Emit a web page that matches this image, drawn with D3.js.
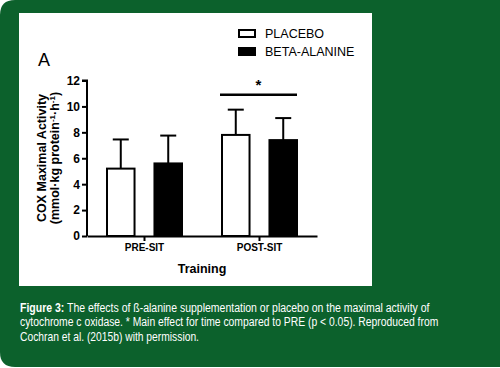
<!DOCTYPE html>
<html>
<head>
<meta charset="utf-8">
<script src="https://cdn.jsdelivr.net/npm/d3@7"></script>
<style>
  body { margin: 0; background: #fff; }
  svg { display: block; }
</style>
</head>
<body>
<svg width="500" height="368"></svg>
<script>
  // data
  var groups = ["PRE-SIT", "POST-SIT"];
  var series = ["PLACEBO", "BETA-ALANINE"];
  var means = [[5.2, 5.6], [7.8, 7.4]];
  var errs = [[7.45, 7.75], [9.75, 9.1]];
  var yTicks = [0, 2, 4, 6, 8, 10, 12];

  var svg = d3.select("svg");
  var green = "#0c612c";

  // green card with rounded left corners
  svg.append("path")
    .attr("d", "M15,0 H500 V367 H15 Q0,367 0,352 V15 Q0,0 15,0 Z")
    .attr("fill", green);

  svg.append("rect")
    .attr("x", 19).attr("y", 13)
    .attr("width", 353).attr("height", 273)
    .attr("fill", "#fff");

  var x0 = d3.scaleBand().domain(groups).range([87, 317]).padding(0);
  var x1 = d3.scaleBand().domain(series).range([20, 95]).paddingInner(0.42);
  var y = d3.scaleLinear().domain([0, 12]).range([236, 80.5]);
  var fill = d3.scaleOrdinal().domain(series).range(["#fff", "#000"]);

  var g = svg.append("g");

  var grp = g.selectAll("g.grp")
    .data(groups)
    .enter().append("g")
    .attr("class", "grp")
    .attr("transform", function(d) { return "translate(" + x0(d) + ",0)"; });

  // error bars (drawn first so the bar covers the lower half)
  grp.selectAll("g.err")
    .data(function(d, i) { return series.map(function(s, j) { return {key: s, value: means[i][j], err: errs[i][j]}; }); })
    .enter().append("g")
    .attr("class", "err")
    .each(function(d) {
      var cx = x1(d.key) + x1.bandwidth() / 2;
      var e = d3.select(this);
      e.append("line")
        .attr("x1", cx).attr("x2", cx)
        .attr("y1", y(d.value)).attr("y2", y(d.err))
        .attr("stroke", "#000").attr("stroke-width", 2);
      e.append("line")
        .attr("x1", cx - 8).attr("x2", cx + 8)
        .attr("y1", y(d.err)).attr("y2", y(d.err))
        .attr("stroke", "#000").attr("stroke-width", 2);
    });

  grp.selectAll("rect")
    .data(function(d, i) { return series.map(function(s, j) { return {key: s, value: means[i][j]}; }); })
    .enter().append("rect")
    .attr("x", function(d) { return x1(d.key); })
    .attr("y", function(d) { return y(d.value); })
    .attr("width", x1.bandwidth())
    .attr("height", function(d) { return y(0) - y(d.value); })
    .attr("fill", function(d) { return fill(d.key); })
    .attr("stroke", "#000")
    .attr("stroke-width", 2);

  // axes
  var yAxis = g.append("g")
    .attr("transform", "translate(87,0)")
    .call(d3.axisLeft(y).tickValues(yTicks).tickSize(5).tickPadding(2).tickFormat(d3.format("d")));
  var xAxis = g.append("g")
    .attr("transform", "translate(0,236)")
    .call(d3.axisBottom(x0).tickSize(5).tickPadding(3).tickSizeOuter(0));

  [yAxis, xAxis].forEach(function(a) {
    a.select(".domain").attr("stroke", "#000").attr("stroke-width", 2);
    a.selectAll(".tick line").attr("stroke", "#000").attr("stroke-width", 2);
    a.selectAll("text")
      .attr("fill", "#000")
      .attr("font-family", "Liberation Sans, Arial, sans-serif")
      .attr("font-weight", "bold")
      .attr("font-size", 12);
  });
  yAxis.select(".domain").attr("d", "M-5," + y(12) + "H0V" + y(0));
  xAxis.selectAll("text").attr("font-size", 10);

  // significance bar
  var sx1 = x0("POST-SIT") + x1("PLACEBO") - 2;
  var sx2 = x0("POST-SIT") + x1("BETA-ALANINE") + x1.bandwidth();
  g.append("line")
    .attr("x1", sx1).attr("x2", sx2)
    .attr("y1", y(10.9)).attr("y2", y(10.9))
    .attr("stroke", "#000").attr("stroke-width", 2.5);
  g.append("text")
    .attr("x", (sx1 + sx2) / 2).attr("y", y(11.3))
    .attr("text-anchor", "middle")
    .attr("font-family", "Liberation Sans, Arial, sans-serif")
    .attr("font-weight", "bold")
    .attr("font-size", 15)
    .text("*");

  // axis titles
  var ylab = g.append("text")
    .attr("transform", "translate(46,158) rotate(-90)")
    .attr("text-anchor", "middle")
    .attr("font-family", "Liberation Sans, Arial, sans-serif")
    .attr("font-weight", "bold")
    .attr("font-size", 12.5)
    .attr("fill", "#000");
  ylab.append("tspan").attr("x", 0).attr("y", 0).text("COX Maximal Activity");
  var l2 = ylab.append("tspan").attr("x", 0).attr("y", 13);
  l2.append("tspan").text("(mmol·kg protein");
  l2.append("tspan").attr("dy", -4).attr("font-size", 8).text("-1");
  l2.append("tspan").attr("dy", 4).text("·h");
  l2.append("tspan").attr("dy", -4).attr("font-size", 8).text("-1");
  l2.append("tspan").attr("dy", 4).text(")");

  g.append("text")
    .attr("x", 202).attr("y", 273)
    .attr("text-anchor", "middle")
    .attr("font-family", "Liberation Sans, Arial, sans-serif")
    .attr("font-weight", "bold")
    .attr("font-size", 12.5)
    .text("Training");

  g.append("text")
    .attr("x", 38).attr("y", 66)
    .attr("font-family", "Liberation Sans, Arial, sans-serif")
    .attr("font-size", 18)
    .text("A");

  // legend
  var legend = g.selectAll("g.legend")
    .data(series)
    .enter().append("g")
    .attr("class", "legend")
    .attr("transform", function(d, i) { return "translate(239," + (30 + i * 18) + ")"; });
  legend.append("rect")
    .attr("width", 16).attr("height", 7)
    .attr("fill", fill)
    .attr("stroke", "#000").attr("stroke-width", 2);
  legend.append("text")
    .attr("x", 26).attr("y", 7.5)
    .attr("font-family", "Liberation Sans, Arial, sans-serif")
    .attr("font-size", 12.5)
    .text(function(d) { return d; });

  // caption: condensed face is not installed, so squeeze each line horizontally
  var captionLines = [
    [["Figure 3:", true], [" The effects of ß-alanine supplementation or placebo on the maximal activity of", false]],
    [["cytochrome c oxidase. * Main effect for time compared to PRE (p < 0.05). Reproduced from", false]],
    [["Cochran et al. (2015b) with permission.", false]]
  ];
  var captionWidths = [410, 419, 179];
  captionLines.forEach(function(line, i) {
    var t = svg.append("text")
      .attr("font-family", "Liberation Sans, Arial, sans-serif")
      .attr("font-size", 13.5)
      .attr("fill", "#fff");
    line.forEach(function(part) {
      t.append("tspan").attr("font-weight", part[1] ? "bold" : "normal").text(part[0]);
    });
    var w = t.node().getComputedTextLength();
    var k = captionWidths[i] / w;
    t.attr("transform", "translate(20," + (312 + i * 14.3) + ") scale(" + k + ",1)");
  });
</script>
</body>
</html>
